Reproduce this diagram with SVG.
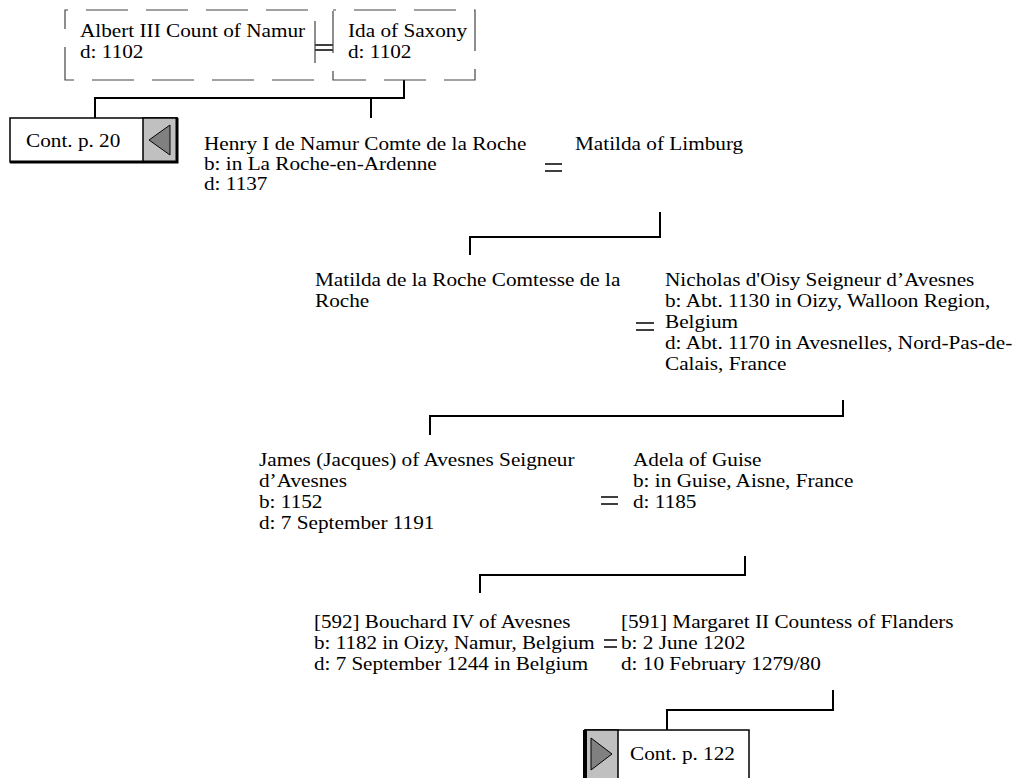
<svg xmlns="http://www.w3.org/2000/svg" width="1024" height="778" viewBox="0 0 1024 778">
<style>
text{font-family:"Liberation Serif","Times New Roman",serif;font-size:18px;fill:#000}
.dash{fill:none;stroke:#444;stroke-width:1.2;stroke-dasharray:42 18;stroke-dashoffset:39}
.ln{fill:none;stroke:#000;stroke-width:2}
.eq{stroke:#000;stroke-width:1.5}
</style>
<rect width="1024" height="778" fill="#fff"/>
<g id="connectors">
<path class="ln" d="M404 80V98H95V118M371 98V118"/>
<path class="ln" d="M660 212V237H470V255"/>
<path class="ln" d="M843 400V416H430V435"/>
<path class="ln" d="M745 556V575H480V593"/>
<path class="ln" d="M833 690V710H667V730"/>
<path class="eq" stroke="#555" d="M315 45H333M315 50H333"/>
<path class="eq" d="M545 164H562M545 171H562"/>
<path class="eq" d="M636 323H654M636 330H654"/>
<path class="eq" d="M601 497H618M601 504H618"/>
<path class="eq" d="M604 640H617M604 647H617"/>
</g>
<g id="albert">
<rect class="dash" x="65" y="10" width="250" height="70"/>
<text transform="translate(80,37) scale(1.18,1)">Albert III Count of Namur<tspan x="0" dy="21">d: 1102</tspan></text>
</g>
<g id="ida">
<rect class="dash" x="333" y="10" width="142" height="70"/>
<text transform="translate(348,37) scale(1.18,1)">Ida of Saxony<tspan x="0" dy="21">d: 1102</tspan></text>
</g>
<g id="cont20">
<rect x="10" y="118" width="167" height="44" fill="#fff" stroke="#000" stroke-width="1.5"/>
<rect x="143" y="118" width="34" height="44" fill="#c0c0c0" stroke="#000" stroke-width="1.5"/>
<path d="M177 118V162H10" fill="none" stroke="#000" stroke-width="3"/>
<polygon points="170,125 170,155 149,140" fill="#808080" stroke="#000" stroke-width="1"/>
<text transform="translate(26,147) scale(1.18,1)">Cont. p. 20</text>
</g>
<g id="henry">
<text transform="translate(204,150) scale(1.18,1)">Henry I de Namur Comte de la Roche<tspan x="0" dy="20">b: in La Roche-en-Ardenne</tspan><tspan x="0" dy="20">d: 1137</tspan></text>
</g>
<g id="matilda-limburg">
<text transform="translate(575,150) scale(1.18,1)">Matilda of Limburg</text>
</g>
<g id="matilda-roche">
<text transform="translate(315,286) scale(1.18,1)">Matilda de la Roche Comtesse de la<tspan x="0" dy="21">Roche</tspan></text>
</g>
<g id="nicholas">
<text transform="translate(665,286) scale(1.18,1)">Nicholas d'Oisy Seigneur d’Avesnes<tspan x="0" dy="21">b: Abt. 1130 in Oizy, Walloon Region,</tspan><tspan x="0" dy="21">Belgium</tspan><tspan x="0" dy="21">d: Abt. 1170 in Avesnelles, Nord-Pas-de-</tspan><tspan x="0" dy="21">Calais, France</tspan></text>
</g>
<g id="james">
<text transform="translate(259,466) scale(1.18,1)">James (Jacques) of Avesnes Seigneur<tspan x="0" dy="21">d’Avesnes</tspan><tspan x="0" dy="21">b: 1152</tspan><tspan x="0" dy="21">d: 7 September 1191</tspan></text>
</g>
<g id="adela">
<text transform="translate(633,466) scale(1.18,1)">Adela of Guise<tspan x="0" dy="21">b: in Guise, Aisne, France</tspan><tspan x="0" dy="21">d: 1185</tspan></text>
</g>
<g id="bouchard">
<text transform="translate(314,628) scale(1.17,1)">[592] Bouchard IV of Avesnes<tspan x="0" dy="21">b: 1182 in Oizy, Namur, Belgium</tspan><tspan x="0" dy="21">d: 7 September 1244 in Belgium</tspan></text>
</g>
<g id="margaret">
<text transform="translate(621,628) scale(1.18,1)">[591] Margaret II Countess of Flanders<tspan x="0" dy="21">b: 2 June 1202</tspan><tspan x="0" dy="21">d: 10 February 1279/80</tspan></text>
</g>
<g id="cont122">
<rect x="585" y="730" width="164" height="50" fill="#fff" stroke="#000" stroke-width="1.5"/>
<rect x="585" y="730" width="33" height="50" fill="#c0c0c0" stroke="#000" stroke-width="1.5"/>
<path d="M585 778V730" stroke="#000" stroke-width="4"/>
<polygon points="591,738 591,770 612,754" fill="#808080" stroke="#000" stroke-width="1"/>
<text transform="translate(630,760) scale(1.18,1)">Cont. p. 122</text>
</g>
</svg>
